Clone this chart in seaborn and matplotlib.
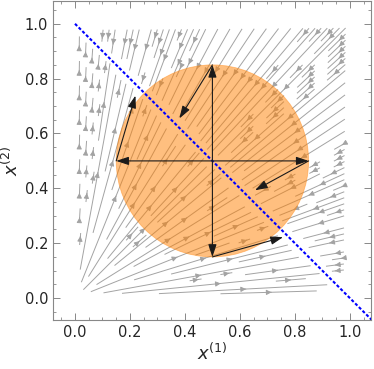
import numpy as np
import matplotlib
matplotlib.use("Agg")
import matplotlib.pyplot as plt
import seaborn as sns
import pandas as pd

# ---- data ----
center = (0.5, 0.5)
radius = 0.35
# black arrows: start points and end points
arrow_starts_x = [0.5, 0.5, 0.5, 0.5, 0.5, 0.15, 0.85, 0.5]
arrow_starts_y = [0.5, 0.5, 0.5, 0.5, 0.85, 0.5, 0.5, 0.15]
arrow_ends_x = [0.5, 0.5, 0.15, 0.85, 0.38, 0.22, 0.655, 0.757]
arrow_ends_y = [0.85, 0.15, 0.5, 0.5, 0.655, 0.738, 0.393, 0.222]
# simplex line x1 + x2 = 1
line_x = [0.0, 1.08]
line_y = [1.0, -0.08]
xticks = [0.0, 0.2, 0.4, 0.6, 0.8, 1.0]
yticks = [0.0, 0.2, 0.4, 0.6, 0.8, 1.0]

sns.set_style("ticks")
plt.rcParams['font.family'] = ['DejaVu Sans']
plt.rcParams['mathtext.fontset'] = 'dejavusans'

fig = plt.figure(figsize=(3.74, 3.69), dpi=100)
ax = fig.add_axes([0.1417, 0.1328, 0.8503, 0.8645])

# vector field (radial flow toward the simplex line), normalised directions
gx = np.linspace(0.015, 1, 131)
gy = np.linspace(0.015, 1, 131)
X, Y = np.meshgrid(gx, gy)
R = np.hypot(X, Y) + 1e-9
S = np.sign(1 - X - Y)
band = np.abs(1 - X - Y) < 0.012
U = np.ma.masked_where(band, S * X / R)
V = np.ma.masked_where(band, S * Y / R)
kw = dict(color='#a3a3a3', linewidth=0.7, arrowsize=0.75, density=1.5, zorder=1,
          minlength=0.06, arrowstyle='-|>', integration_direction='forward')
try:
    sp = ax.streamplot(gx, gy, U, V, num_arrows=3, **kw)
except TypeError:
    sp = ax.streamplot(gx, gy, U, V, **kw)
sp.arrows.set_color('#7a7a7a')

# orange disk
circ = plt.Circle(center, radius, facecolor=(1, 0.5, 0, 0.5), edgecolor=(1, 0.55, 0.1, 0.5), lw=0.6, zorder=2)
ax.add_patch(circ)

# dashed simplex line via seaborn
df = pd.DataFrame({'x': line_x, 'y': line_y})
sns.lineplot(data=df, x='x', y='y', ax=ax, color='blue', lw=1.5, linestyle=(0, (1.5, 1)), zorder=3)

# black arrows
for sx, sy, ex, ey in zip(arrow_starts_x, arrow_starts_y, arrow_ends_x, arrow_ends_y):
    ax.annotate('', xy=(ex, ey), xytext=(sx, sy),
                arrowprops=dict(arrowstyle='-|>,head_length=0.75,head_width=0.25', color='#1a1a1a', lw=0.8,
                                shrinkA=0, shrinkB=0), zorder=4)

ax.set_xlim(-0.08, 1.077)
ax.set_ylim(-0.08, 1.083)
ax.set_xticks(xticks)
ax.set_yticks(yticks)
ax.set_xticklabels([f"{t:.1f}" for t in xticks])
ax.set_yticklabels([f"{t:.1f}" for t in yticks])
ax.set_xticks(np.arange(-0.05, 1.08, 0.05), minor=True)
ax.set_yticks(np.arange(-0.05, 1.08, 0.05), minor=True)
ax.tick_params(which='both', direction='in', top=True, right=True, color='#888888', labelsize=10.5)
ax.tick_params(which='major', length=5, width=0.7)
ax.tick_params(which='minor', length=2.5, width=0.6)
for s in ax.spines.values():
    s.set_color('#888888')
    s.set_linewidth(0.8)
ax.set_xlabel(r'$x^{(1)}$', fontsize=13, labelpad=2)
ax.set_ylabel(r'$x^{(2)}$', fontsize=13, labelpad=2)

fig.savefig('out.png', dpi=100)
